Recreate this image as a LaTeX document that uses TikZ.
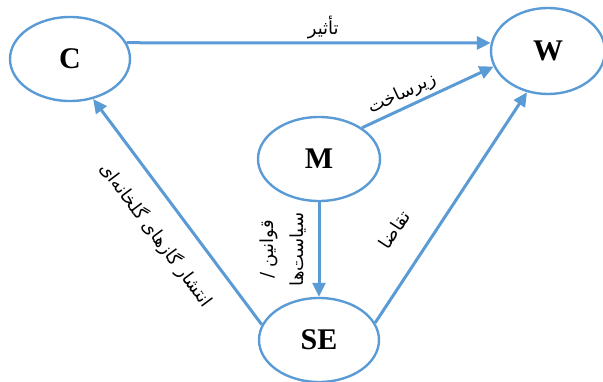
\documentclass[tikz,border=0pt]{standalone}
\usepackage{fontspec}
\setmainfont{Liberation Serif}
\newfontfamily\persianfont[Script=Arabic]{DejaVu Sans}
\TeXXeTstate=1
\usetikzlibrary{shapes.geometric,arrows.meta}
\definecolor{diagblue}{RGB}{91,155,213}
\begin{document}
\begin{tikzpicture}[x=1pt,y=1pt,
  blob/.style={ellipse,draw=diagblue,line width=2.4pt,minimum width=120pt,minimum height=84pt,inner sep=0pt,font=\fontsize{30}{32}\selectfont\bfseries},
  link/.style={draw=diagblue,line width=3pt,-{Triangle[length=14pt,width=13pt]}},
  fa/.style={font=\fontsize{18}{22}\selectfont\persianfont,inner sep=1pt}]
\useasboundingbox (0,0) rectangle (603,381);
\node[blob] (C) at (70,322) {C};
\node[blob,minimum width=114pt,minimum height=86pt] (W) at (548,330) {W};
\node[blob,minimum width=122pt] (M) at (319,222) {M};
\node[blob] (SE) at (319,41) {SE};
\draw[link] (C.16) -- (W.172) node[fa,pos=0.54,above=1pt] {\beginR تأثیر\endR};
\draw[link] (M.36) -- (W.196) node[fa,pos=0.35,sloped,above=2pt] {\beginR زیرساخت\endR};
\draw[link] (M.south) -- (SE.north) node[fa,font=\fontsize{18}{30}\selectfont\persianfont,midway,rotate=90,above=10pt,align=center] {\beginR قوانین /\endR\\\beginR سیاست‌ها\endR};
\draw[link] (SE.17) -- (W.243) node[fa,pos=0.32,sloped,above=26pt] {\beginR تقاضا\endR};
\draw[link] (SE.165) -- (C.300) node[fa,pos=0.48,sloped,below=18pt] {\beginR انتشار گازهای گلخانه‌ای\endR};
\end{tikzpicture}
\end{document}
